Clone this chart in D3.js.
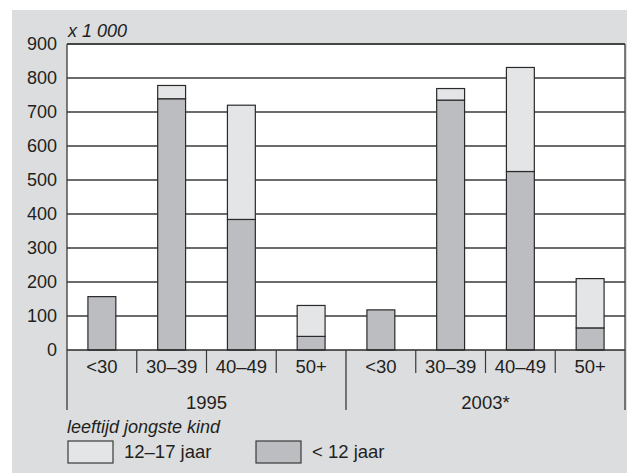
<!DOCTYPE html>
<html>
<head>
<meta charset="utf-8">
<script src="https://cdn.jsdelivr.net/npm/d3@7"></script>
<style>
  body { margin: 0; background: #fff; }
  text { font-family: "Liberation Sans", Arial, sans-serif; fill: #231f20; }
</style>
</head>
<body>
<div id="chart"></div>
<script>
// values in thousands
var years = ["1995", "2003*"];
var ages = ["<30", "30–39", "40–49", "50+"];
var under12 = [157, 739, 384, 40, 118, 735, 525, 65];
var age12to17 = [0, 39, 336, 91, 0, 34, 306, 145];
var yTicks = [0, 100, 200, 300, 400, 500, 600, 700, 800, 900];

var width = 627, height = 475;
var plotLeft = 67, plotRight = 625, plotTop = 44, plotBottom = 350;
var fontSize = '18.5px';

var svg = d3.select('#chart').append('svg')
  .attr('width', width)
  .attr('height', height);

// grey panel
svg.append('rect')
  .attr('x', 12).attr('y', 10)
  .attr('width', width - 12).attr('height', 463)
  .attr('fill', '#dcdddf');

svg.append('rect')
  .attr('x', plotLeft).attr('y', plotTop)
  .attr('width', plotRight - plotLeft).attr('height', plotBottom - plotTop)
  .attr('fill', '#fff');

// one band for every year/age combination
var cats = [];
years.forEach(function (yr) {
  ages.forEach(function (a) { cats.push(yr + '|' + a); });
});

var x = d3.scaleBand().domain(cats).range([plotLeft, plotRight]).padding(0);
var xYear = d3.scaleBand().domain(years).range([plotLeft, plotRight]).padding(0);
var y = d3.scaleLinear().domain([0, 900]).range([plotBottom, plotTop]);

// gridlines
svg.append('g').selectAll('line')
  .data(yTicks.slice(1))
  .enter().append('line')
  .attr('x1', plotLeft).attr('x2', plotRight)
  .attr('y1', function (d) { return y(d); })
  .attr('y2', function (d) { return y(d); })
  .attr('stroke', '#3a3a3a').attr('stroke-width', 1.3);

// y labels
svg.append('g').selectAll('text')
  .data(yTicks)
  .enter().append('text')
  .attr('x', 57)
  .attr('y', function (d) { return y(d) + 6; })
  .attr('text-anchor', 'end')
  .style('font-size', '18px')
  .text(function (d) { return d; });

svg.append('text')
  .attr('x', 68).attr('y', 37)
  .style('font-size', '18px')
  .style('font-style', 'italic')
  .text('x 1 000');

// stacked bars
var rows = cats.map(function (c, i) {
  return { cat: c, low: under12[i], high: age12to17[i] };
});
var bw = x.bandwidth() * 0.4;

var bars = svg.append('g').selectAll('g')
  .data(rows)
  .enter().append('g');

bars.append('rect')
  .attr('x', function (d) { return x(d.cat) + (x.bandwidth() - bw) / 2; })
  .attr('y', function (d) { return y(d.low); })
  .attr('width', bw)
  .attr('height', function (d) { return y(0) - y(d.low); })
  .attr('fill', '#bcbdc0')
  .attr('stroke', '#2a2a2a').attr('stroke-width', 1.2);

bars.filter(function (d) { return d.high > 0; })
  .append('rect')
  .attr('x', function (d) { return x(d.cat) + (x.bandwidth() - bw) / 2; })
  .attr('y', function (d) { return y(d.low + d.high); })
  .attr('width', bw)
  .attr('height', function (d) { return y(d.low) - y(d.low + d.high); })
  .attr('fill', '#e4e5e7')
  .attr('stroke', '#2a2a2a').attr('stroke-width', 1.2);

// frame: top line and baseline
svg.append('line').attr('x1', plotLeft).attr('x2', plotRight).attr('y1', plotTop).attr('y2', plotTop)
  .attr('stroke', '#3a3a3a').attr('stroke-width', 1.3);
svg.append('line').attr('x1', plotLeft).attr('x2', plotRight).attr('y1', plotBottom).attr('y2', plotBottom)
  .attr('stroke', '#2a2a2a').attr('stroke-width', 1.5);

// category labels and separators
svg.append('g').selectAll('line')
  .data(cats.filter(function (c, i) { return i % 4 !== 0; }))
  .enter().append('line')
  .attr('x1', function (d) { return x(d); })
  .attr('x2', function (d) { return x(d); })
  .attr('y1', plotBottom).attr('y2', 373)
  .attr('stroke', '#3a3a3a').attr('stroke-width', 1.2);

svg.append('g').selectAll('text')
  .data(cats)
  .enter().append('text')
  .attr('x', function (d) { return x(d) + x.bandwidth() / 2; })
  .attr('y', 373)
  .attr('text-anchor', 'middle')
  .style('font-size', fontSize)
  .text(function (d) { return d.split('|')[1]; });

// year separators (outer ones run up as the frame sides) and labels
var yearEdges = [plotLeft].concat(years.map(function (yr) { return xYear(yr) + xYear.bandwidth(); }));
svg.append('g').selectAll('line')
  .data(yearEdges)
  .enter().append('line')
  .attr('x1', function (d) { return d; })
  .attr('x2', function (d) { return d; })
  .attr('y1', function (d, i) { return (i === 0 || i === yearEdges.length - 1) ? plotTop : plotBottom; })
  .attr('y2', 410)
  .attr('stroke', '#3a3a3a').attr('stroke-width', 1.3);

svg.append('g').selectAll('text')
  .data(years)
  .enter().append('text')
  .attr('x', function (d) { return xYear(d) + xYear.bandwidth() / 2; })
  .attr('y', 409)
  .attr('text-anchor', 'middle')
  .style('font-size', fontSize)
  .text(function (d) { return d; });

// legend
svg.append('text')
  .attr('x', 67).attr('y', 433)
  .style('font-size', '18px')
  .style('font-style', 'italic')
  .text('leeftijd jongste kind');

var legendItems = [
  { label: '12–17 jaar', fill: '#e4e5e7', x: 68 },
  { label: '< 12 jaar', fill: '#bcbdc0', x: 256 }
];
var lg = svg.append('g').selectAll('g')
  .data(legendItems)
  .enter().append('g');

lg.append('rect')
  .attr('x', function (d) { return d.x; })
  .attr('y', 441)
  .attr('width', 45).attr('height', 22)
  .attr('fill', function (d) { return d.fill; })
  .attr('stroke', '#3a3a3a').attr('stroke-width', 1.2);

lg.append('text')
  .attr('x', function (d) { return d.x + 56; })
  .attr('y', 458)
  .style('font-size', fontSize)
  .text(function (d) { return d.label; });
</script>
</body>
</html>
